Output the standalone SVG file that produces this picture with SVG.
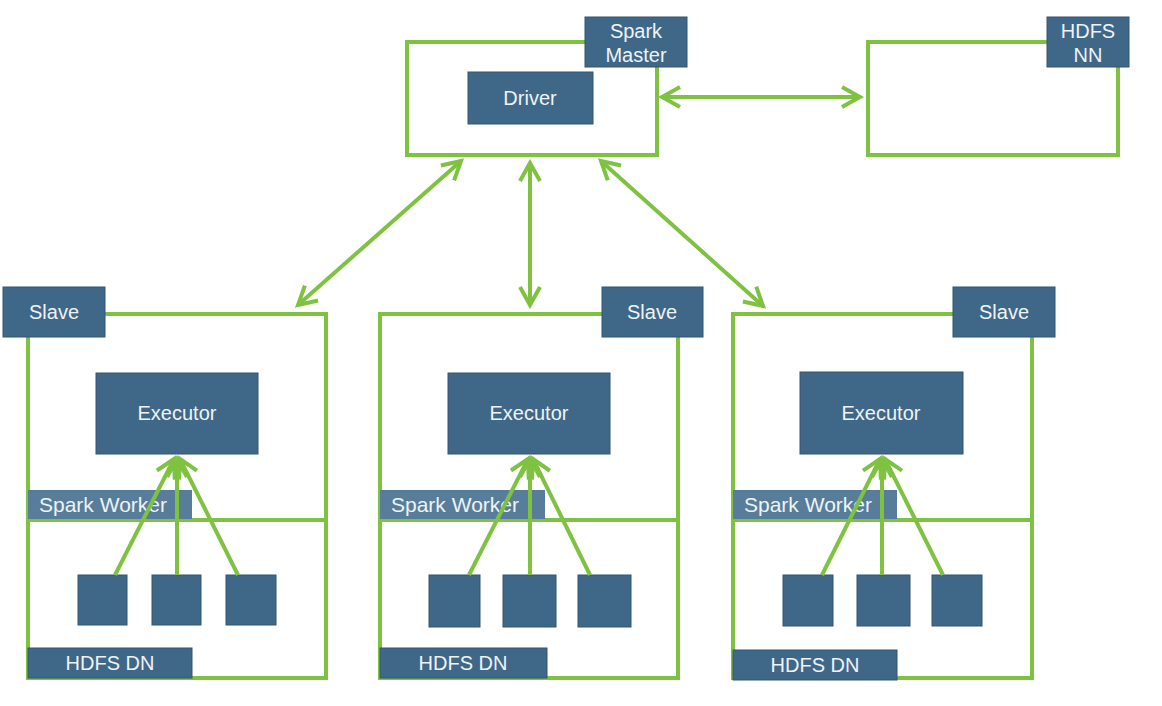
<svg xmlns="http://www.w3.org/2000/svg" width="1162" height="706" viewBox="0 0 1162 706">
<style>
.frame{fill:none;stroke:#7fc241;stroke-width:4}
.div{stroke:#7fc241;stroke-width:4}
.lbl{fill:#3f6788;stroke:#34566f;stroke-width:1}
.lbl2{fill:#577d9b}
.t{font-family:"Liberation Sans",Arial,sans-serif;font-size:20px;fill:#eef3f6;text-anchor:middle}
.ts{font-family:"Liberation Sans",Arial,sans-serif;font-size:21px;fill:#eef3f6}
.con{fill:none;stroke:#7fc241;stroke-width:4}
</style>
<defs>
<marker id="ah" viewBox="0 0 24 24" markerUnits="userSpaceOnUse" markerWidth="24" markerHeight="24" refX="20" refY="12" orient="auto-start-reverse">
<path d="M2,2 L20,12 L2,22" fill="none" stroke="#7fc241" stroke-width="4" stroke-linejoin="miter"/>
</marker>
</defs>
<rect width="1162" height="706" fill="#ffffff"/>

<g id="spark-master">
<rect class="frame" x="407" y="42" width="250" height="113"/>
<rect class="lbl" x="585" y="17" width="102" height="50"/>
<text class="t" x="636" y="38">Spark</text>
<text class="t" x="636" y="62">Master</text>
</g>
<g id="driver">
<rect class="lbl" x="468" y="72" width="125" height="52"/>
<text class="t" x="530" y="105">Driver</text>
</g>

<g id="hdfs-nn">
<rect class="frame" x="868" y="42" width="250" height="113"/>
<rect class="lbl" x="1047" y="17" width="82" height="50"/>
<text class="t" x="1088" y="38">HDFS</text>
<text class="t" x="1088" y="62">NN</text>
</g>

<g id="slave1">
<rect class="frame" x="28" y="314" width="298" height="364"/>
<line class="div" x1="28" y1="520" x2="326" y2="520"/>
<rect class="lbl" x="3" y="287" width="102" height="50"/>
<text class="t" x="54" y="319">Slave</text>
<rect class="lbl" x="96" y="373" width="162" height="81"/>
<text class="t" x="177" y="420">Executor</text>
<rect class="lbl2" x="28" y="490" width="164" height="29"/>
<text class="ts" x="39" y="512">Spark Worker</text>
<rect class="lbl" x="78" y="575" width="49" height="50"/>
<rect class="lbl" x="152" y="575" width="49" height="50"/>
<rect class="lbl" x="226" y="575" width="50" height="50"/>
<rect class="lbl" x="28" y="648" width="164" height="30"/>
<text class="t" x="110" y="670">HDFS DN</text>
</g>

<g id="slave2">
<rect class="frame" x="380" y="314" width="298" height="364"/>
<line class="div" x1="380" y1="520" x2="678" y2="520"/>
<rect class="lbl" x="602" y="287" width="101" height="50"/>
<text class="t" x="652" y="319">Slave</text>
<rect class="lbl" x="448" y="373" width="162" height="81"/>
<text class="t" x="529" y="420">Executor</text>
<rect class="lbl2" x="380" y="490" width="165" height="29"/>
<text class="ts" x="391" y="512">Spark Worker</text>
<rect class="lbl" x="429" y="575" width="51" height="52"/>
<rect class="lbl" x="503" y="575" width="53" height="52"/>
<rect class="lbl" x="578" y="575" width="53" height="52"/>
<rect class="lbl" x="380" y="648" width="167" height="30"/>
<text class="t" x="463" y="670">HDFS DN</text>
</g>

<g id="slave3">
<rect class="frame" x="733" y="314" width="299" height="364"/>
<line class="div" x1="733" y1="520" x2="1032" y2="520"/>
<rect class="lbl" x="953" y="287" width="102" height="50"/>
<text class="t" x="1004" y="319">Slave</text>
<rect class="lbl" x="800" y="372" width="163" height="82"/>
<text class="t" x="881" y="420">Executor</text>
<rect class="lbl2" x="733" y="490" width="164" height="29"/>
<text class="ts" x="744" y="512">Spark Worker</text>
<rect class="lbl" x="783" y="575" width="50" height="51"/>
<rect class="lbl" x="857" y="575" width="53" height="51"/>
<rect class="lbl" x="932" y="575" width="50" height="51"/>
<rect class="lbl" x="733" y="650" width="164" height="30"/>
<text class="t" x="815" y="672">HDFS DN</text>
</g>

<g id="connectors">
<line class="con" x1="662" y1="97" x2="860" y2="97" marker-start="url(#ah)" marker-end="url(#ah)"/>
<line class="con" x1="461" y1="161" x2="298" y2="305" marker-start="url(#ah)" marker-end="url(#ah)"/>
<line class="con" x1="530" y1="163" x2="530" y2="305" marker-start="url(#ah)" marker-end="url(#ah)"/>
<line class="con" x1="601" y1="161" x2="763" y2="306" marker-start="url(#ah)" marker-end="url(#ah)"/>

<line class="con" x1="115" y1="575" x2="174" y2="459" marker-end="url(#ah)"/>
<line class="con" x1="177" y1="575" x2="177" y2="459" marker-end="url(#ah)"/>
<line class="con" x1="238" y1="575" x2="180" y2="459" marker-end="url(#ah)"/>

<line class="con" x1="469" y1="575" x2="528" y2="459" marker-end="url(#ah)"/>
<line class="con" x1="530" y1="575" x2="530" y2="459" marker-end="url(#ah)"/>
<line class="con" x1="590" y1="575" x2="533" y2="459" marker-end="url(#ah)"/>

<line class="con" x1="822" y1="575" x2="880" y2="459" marker-end="url(#ah)"/>
<line class="con" x1="882" y1="575" x2="882" y2="459" marker-end="url(#ah)"/>
<line class="con" x1="943" y1="575" x2="885" y2="459" marker-end="url(#ah)"/>
</g>
</svg>
